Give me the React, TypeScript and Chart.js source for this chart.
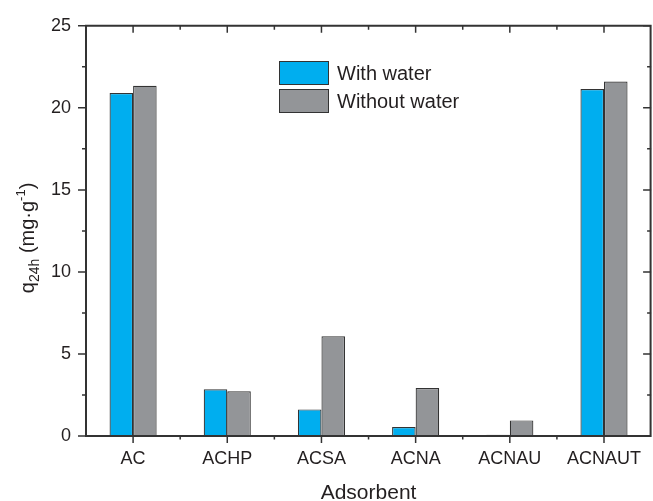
import React, { useEffect, useRef } from "react";
import { Chart, registerables } from "chart.js";

Chart.register(...registerables);

const categories = ["AC", "ACHP", "ACSA", "ACNA", "ACNAU", "ACNAUT"];
const withWater = [20.9, 2.85, 1.62, 0.55, 0.08, 21.15];
const withoutWater = [21.35, 2.72, 6.08, 2.92, 0.95, 21.6];
const seriesNames = ["With water", "Without water"];
const seriesColors = ["#00AEEF", "#939598"];
const yTicks = [0, 5, 10, 15, 20, 25];

const FONT = "'Liberation Sans', Arial, Helvetica, sans-serif";
const INK = "#333333";

const framePlugin = {
  id: "frame",
  afterDraw(chart: any) {
    const ctx = chart.ctx;
    const { left, right, top, bottom } = chart.chartArea;
    const x = chart.scales.x;
    const y = chart.scales.y;
    ctx.save();
    ctx.strokeStyle = INK;
    ctx.lineWidth = 2;
    ctx.beginPath();
    ctx.rect(left, top, right - left - 0.5, bottom - top);
    ctx.stroke();
    ctx.lineWidth = 1.5;
    ctx.beginPath();
    // y ticks
    for (let v = 0; v <= 25; v += 2.5) {
      const py = y.getPixelForValue(v);
      const major = Math.abs(v % 5) < 1e-6;
      const len = major ? 8 : 4;
      ctx.moveTo(left - len, py);
      ctx.lineTo(left, py);
      ctx.moveTo(right, py);
      ctx.lineTo(right - len, py);
    }
    // x ticks
    const n = categories.length;
    for (let i = 0; i < n; i++) {
      const px = x.getPixelForValue(i);
      ctx.moveTo(px, bottom);
      ctx.lineTo(px, bottom + 7);
      ctx.moveTo(px, top);
      ctx.lineTo(px, top + 7);
    }
    for (let i = 0; i < n - 1; i++) {
      const px = (x.getPixelForValue(i) + x.getPixelForValue(i + 1)) / 2;
      ctx.moveTo(px, bottom);
      ctx.lineTo(px, bottom + 3.5);
      ctx.moveTo(px, top);
      ctx.lineTo(px, top + 4);
    }
    ctx.stroke();

    // legend
    const lx = 279;
    const ly = [61, 89];
    ctx.font = `20px ${FONT}`;
    ctx.textBaseline = "middle";
    ctx.textAlign = "left";
    for (let i = 0; i < 2; i++) {
      ctx.fillStyle = seriesColors[i];
      ctx.fillRect(lx, ly[i], 50, 24);
      ctx.lineWidth = 1;
      ctx.strokeStyle = INK;
      ctx.strokeRect(lx + 0.5, ly[i] + 0.5, 49, 23);
      ctx.fillStyle = "#231f20";
      ctx.fillText(seriesNames[i], lx + 58, ly[i] + 13);
    }

    // y title with sub/superscripts
    ctx.translate(34, (top + bottom) / 2 + 7);
    ctx.rotate(-Math.PI / 2);
    const parts: [string, number, number][] = [
      ["q", 20, 0],
      ["24h", 14, 5],
      [" (mg·g", 20, 0],
      ["-1", 13, -9],
      [")", 20, 0],
    ];
    ctx.textBaseline = "alphabetic";
    let total = 0;
    for (const [t, s] of parts) {
      ctx.font = `${s}px ${FONT}`;
      total += ctx.measureText(t).width;
    }
    let cx = -total / 2;
    ctx.fillStyle = "#231f20";
    for (const [t, s, dy] of parts) {
      ctx.font = `${s}px ${FONT}`;
      ctx.fillText(t, cx, dy);
      cx += ctx.measureText(t).width;
    }
    ctx.restore();
  },
};

export default function App() {
  const ref = useRef<HTMLCanvasElement>(null);
  useEffect(() => {
    document.body.style.margin = "0";
    const chart = new Chart(ref.current!, {
      type: "bar",
      data: {
        labels: categories,
        datasets: [
          {
            label: seriesNames[0],
            data: withWater,
            backgroundColor: seriesColors[0],
            borderColor: INK,
            borderWidth: 1.2,
            categoryPercentage: 0.5,
            barPercentage: 1.0,
          },
          {
            label: seriesNames[1],
            data: withoutWater,
            backgroundColor: seriesColors[1],
            borderColor: INK,
            borderWidth: 1.2,
            categoryPercentage: 0.5,
            barPercentage: 1.0,
          },
        ],
      },
      options: {
        animation: false,
        responsive: false,
        layout: { padding: { top: 20, right: 0, left: 0, bottom: 0 } },
        plugins: { legend: { display: false }, tooltip: { enabled: false } },
        scales: {
          x: {
            grid: { display: false, drawTicks: false },
            border: { display: false },
            ticks: {
              color: "#231f20",
              font: { family: FONT, size: 18 },
              padding: 12,
              maxRotation: 0,
            },
            title: {
              display: true,
              text: "Adsorbent",
              color: "#231f20",
              font: { family: FONT, size: 21 },
              padding: { top: 4, bottom: -5 },
            },
            afterFit: (s: any) => {
              s.height = 65;
            },
          },
          y: {
            min: 0,
            max: 25,
            afterBuildTicks: (s: any) => {
              s.ticks = yTicks.map((v) => ({ value: v }));
            },
            grid: { display: false, drawTicks: false },
            border: { display: false },
            ticks: {
              color: "#231f20",
              font: { family: FONT, size: 18 },
              padding: 15,
            },
            afterFit: (s: any) => {
              s.width = 86;
            },
          },
        },
      },
      plugins: [framePlugin],
    });
    return () => chart.destroy();
  }, []);
  return <canvas ref={ref} width={653} height={501} style={{ display: "block" }} />;
}
